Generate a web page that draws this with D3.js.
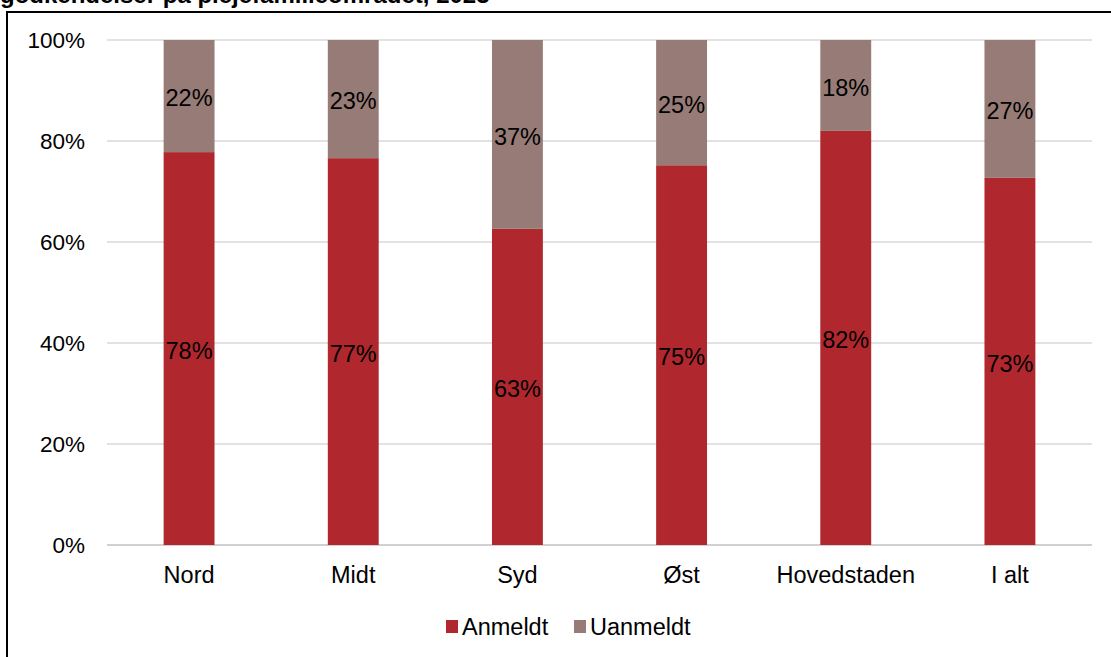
<!DOCTYPE html>
<html><head><meta charset="utf-8">
<script src="https://cdn.jsdelivr.net/npm/d3@7"></script>
<style>body{margin:0;background:#fff;}svg{display:block;font-family:"Liberation Sans",Arial,sans-serif;}</style>
</head><body>
<svg id="c" width="1111" height="657"></svg>
<script>
const categories = ["Nord","Midt","Syd","Øst","Hovedstaden","I alt"];
const anmeldt = [77.8, 76.6, 62.6, 75.2, 82.0, 72.7];
const uanmeldt = [22.2, 23.4, 37.4, 24.8, 18.0, 27.3];
const seriesNames = ["Anmeldt","Uanmeldt"];
const yTicks = [0,20,40,60,80,100];
const titleText = "godkendelser på plejefamilieområdet, 2023";

const colors = {Anmeldt:"#b0282e", Uanmeldt:"#977b76"};
const svg = d3.select("#c");

// title (cut off at top, as in the reference)
svg.append("text").attr("x",0).attr("y",3).attr("font-weight","bold")
  .attr("font-size",24).attr("fill","#000").text(titleText);
// frame
svg.append("rect").attr("x",7).attr("y",12).attr("width",1200).attr("height",800)
  .attr("fill","none").attr("stroke","#000").attr("stroke-width",2);

const x = d3.scaleBand().domain(categories).range([107,1092]).paddingInner(0.69).paddingOuter(0.345);
const y = d3.scaleLinear().domain([0,100]).range([545,40]);

// gridlines
svg.append("g").selectAll("line").data(yTicks).join("line")
  .attr("x1",107).attr("x2",1092).attr("y1",d=>y(d)).attr("y2",d=>y(d))
  .attr("stroke",d=>d===0?"#d0d0d0":"#d9d9d9").attr("stroke-width",d=>d===0?2:1.5);

// y axis labels
const yAxis = d3.axisLeft(y).tickValues(yTicks).tickFormat(d=>d+"%").tickSize(0).tickPadding(0);
const ga = svg.append("g").attr("transform","translate(85,0)").call(yAxis);
ga.select(".domain").remove();
ga.selectAll("text").attr("font-size",22.5).attr("fill","#000").attr("font-family","Liberation Sans, Arial, sans-serif");

// x axis labels
const xAxis = d3.axisBottom(x).tickSize(0).tickPadding(0);
const gx = svg.append("g").attr("transform","translate(0,566)").call(xAxis);
gx.select(".domain").remove();
gx.selectAll("text").attr("font-size",23.5).attr("fill","#000").attr("font-family","Liberation Sans, Arial, sans-serif");

// stacked data
const rows = categories.map((c,i)=>({cat:c, Anmeldt:anmeldt[i], Uanmeldt:uanmeldt[i]}));
const stack = d3.stack().keys(seriesNames)(rows);

const g = svg.append("g");
stack.forEach(s=>{
  g.append("g").selectAll("rect").data(s).join("rect")
    .attr("x",d=>x(d.data.cat)).attr("width",x.bandwidth())
    .attr("y",d=>y(d[1])).attr("height",d=>y(d[0])-y(d[1]))
    .attr("fill",colors[s.key]);
  g.append("g").selectAll("text").data(s).join("text")
    .attr("x",d=>x(d.data.cat)+x.bandwidth()/2)
    .attr("y",d=>(y(d[0])+y(d[1]))/2+2)
    .attr("dy","0.35em").attr("text-anchor","middle")
    .attr("font-size",23.5).attr("fill","#000")
    .text(d=>Math.round(d[1]-d[0])+"%");
});

// legend
const legend = svg.append("g");
const lx = [446, 574];
seriesNames.forEach((n,i)=>{
  legend.append("rect").attr("x",lx[i]).attr("y",620).attr("width",12).attr("height",13).attr("fill",colors[n]);
  legend.append("text").attr("x",lx[i]+16).attr("y",634.5).attr("font-size",23.5).attr("fill","#000").text(n);
});
</script>
</body></html>
